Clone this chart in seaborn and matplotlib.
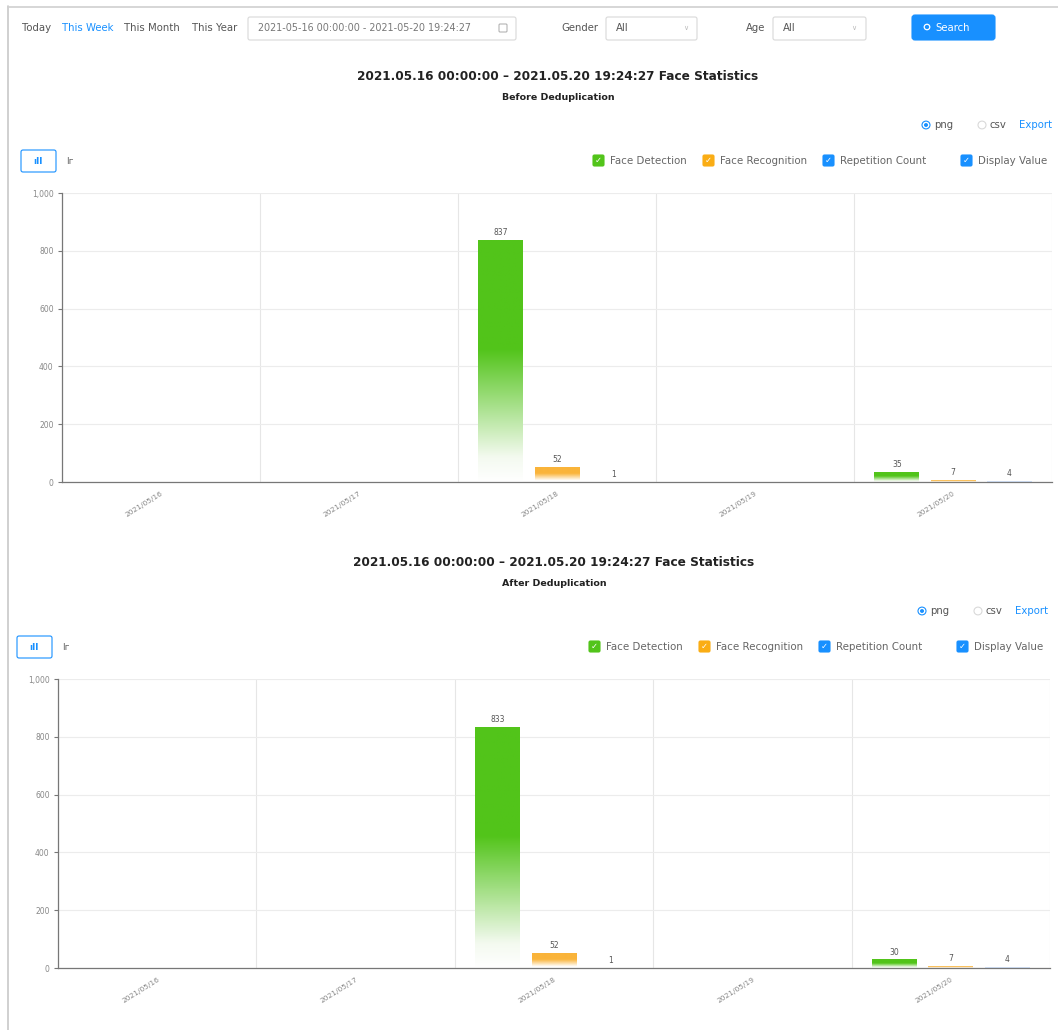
import numpy as np
import pandas as pd
import matplotlib
matplotlib.use("Agg")
import matplotlib.pyplot as plt
from matplotlib.colors import LinearSegmentedColormap
from matplotlib.patches import FancyBboxPatch, Circle
import seaborn as sns

# ---------------- data ----------------
dates = ["2021/05/16", "2021/05/17", "2021/05/18", "2021/05/19", "2021/05/20"]
series_names = ["Face Detection", "Face Recognition", "Repetition Count"]
before_detection = [0, 0, 837, 0, 35]
before_recognition = [0, 0, 52, 0, 7]
before_repetition = [0, 0, 1, 0, 4]
after_detection = [0, 0, 833, 0, 30]
after_recognition = [0, 0, 52, 0, 7]
after_repetition = [0, 0, 1, 0, 4]
y_ticks = [0, 200, 400, 600, 800, 1000]
y_tick_labels = ["0", "200", "400", "600", "800", "1,000"]
title_text = "2021.05.16 00:00:00 – 2021.05.20 19:24:27 Face Statistics"
subtitles = ["Before Deduplication", "After Deduplication"]

colors = ["#52c41a", "#fab43a", "#8fb8f5"]

sns.set_theme(style="white")
plt.rcParams["font.family"] = ["DejaVu Sans"]

W, H = 1058, 1030
fig = plt.figure(figsize=(W / 100, H / 100), dpi=100)
fig.patch.set_facecolor("white")


def fx(px):
    return px / W


def fy(py):
    return 1 - py / H


def txt(x, y, s, **kw):
    kw.setdefault("va", "center")
    kw.setdefault("ha", "left")
    kw.setdefault("fontsize", 7.3)
    kw.setdefault("color", "#555555")
    fig.text(fx(x), fy(y), s, **kw)


def box(x0, y0, x1, y1, ec="#d9d9d9", fc="white", lw=0.8, r=2):
    p = FancyBboxPatch((fx(x0), fy(y1)), fx(x1) - fx(x0), fy(y0) - fy(y1),
                       boxstyle=f"round,pad=0,rounding_size={r / W}",
                       transform=fig.transFigure, ec=ec, fc=fc, lw=lw)
    fig.add_artist(p)


# outer frame
fig.add_artist(plt.Line2D([fx(8), fx(8)], [fy(6), fy(1030)], transform=fig.transFigure, color="#c8c8c8", lw=1.2))
fig.add_artist(plt.Line2D([fx(8), fx(1058)], [fy(7), fy(7)], transform=fig.transFigure, color="#d0d0d0", lw=1.2))

# --------- filter row ----------
ry = 28
txt(22, ry, "Today")
txt(62, ry, "This Week", color="#1890ff")
txt(124, ry, "This Month")
txt(192, ry, "This Year")
box(248, 17, 516, 40)
txt(258, ry, "2021-05-16 00:00:00 - 2021-05-20 19:24:27", color="#777777", fontsize=6.9)
box(499, 24, 507, 32, ec="#aaaaaa", lw=0.7, r=1)
txt(598, ry, "Gender", ha="right")
box(606, 17, 697, 40)
txt(616, ry, "All")
txt(683, ry, "∨", color="#bbbbbb", fontsize=5)
txt(765, ry, "Age", ha="right")
box(773, 17, 866, 40)
txt(783, ry, "All")
txt(851, ry, "∨", color="#bbbbbb", fontsize=5)
box(912, 15, 995, 40, ec="#1890ff", fc="#1890ff", r=3)
fig.add_artist(Circle((fx(927), fy(27)), 2.8 / W, transform=fig.transFigure, fc="none", ec="white", lw=0.9))
txt(935, ry, "Search", color="white")

# --------- chart blocks ----------
blocks = [
    dict(dy=0, dx=0, det=before_detection, rec=before_recognition, rep=before_repetition,
         ax_rect=(62, 193, 1052, 482), sub=subtitles[0]),
    dict(dy=486, dx=-4, det=after_detection, rec=after_recognition, rep=after_repetition,
         ax_rect=(58, 679, 1050, 968), sub=subtitles[1]),
]

for b in blocks:
    dy, dx = b["dy"], b["dx"]
    txt(558 + dx, 76 + dy, title_text, ha="center", fontsize=8.7, fontweight="bold", color="#222222")
    txt(558 + dx, 97 + dy, b["sub"], ha="center", fontsize=6.8, fontweight="bold", color="#222222")
    # export radios
    fig.add_artist(Circle((fx(926 + dx), fy(125 + dy)), 4 / W, transform=fig.transFigure, fc="white", ec="#1890ff", lw=0.8))
    fig.add_artist(Circle((fx(926 + dx), fy(125 + dy)), 2 / W, transform=fig.transFigure, fc="#1890ff", ec="none"))
    txt(934 + dx, 125 + dy, "png")
    fig.add_artist(Circle((fx(982 + dx), fy(125 + dy)), 4 / W, transform=fig.transFigure, fc="white", ec="#d9d9d9", lw=0.8))
    txt(990 + dx, 125 + dy, "csv")
    txt(1019 + dx, 125 + dy, "Export", color="#1890ff")
    # chart type buttons
    box(21 + dx, 150 + dy, 56 + dx, 172 + dy, ec="#1890ff", fc="white", r=2)
    txt(38 + dx, 161 + dy, "ıll", ha="center", color="#1890ff", fontsize=6.5, fontweight="bold")
    txt(66 + dx, 161 + dy, "lг", color="#666666", fontsize=6.5)
    # legend / checkboxes
    leg = [(593, "Face Detection", "#52c41a"), (703, "Face Recognition", "#faad14"),
           (823, "Repetition Count", "#1890ff"), (961, "Display Value", "#1890ff")]
    for (lx, lab, c) in leg:
        box(lx + dx, 155 + dy, lx + 11 + dx, 166 + dy, ec=c, fc=c, r=1.5)
        txt(lx + 5.5 + dx, 160.5 + dy, "✓", ha="center", color="white", fontsize=6, fontweight="bold")
        txt(lx + 17 + dx, 160.5 + dy, lab, fontsize=7.4, color="#666666")

    # ----- axes -----
    x0, y0, x1, y1 = b["ax_rect"]
    ax = fig.add_axes([fx(x0), fy(y1), fx(x1) - fx(x0), fy(y0) - fy(y1)])
    df = pd.DataFrame({
        "date": dates * 3,
        "series": [series_names[0]] * 5 + [series_names[1]] * 5 + [series_names[2]] * 5,
        "value": list(b["det"]) + list(b["rec"]) + list(b["rep"]),
    })
    sns.barplot(data=df, x="date", y="value", hue="series", hue_order=series_names,
                palette=colors, width=0.85, gap=0.2, legend=False, ax=ax, errorbar=None)
    ax.set_xlim(-0.5, 4.5)
    ax.set_ylim(0, 1000)
    # gradient fills
    for cont, c in zip(ax.containers, colors):
        cmap = LinearSegmentedColormap.from_list(
            "g", [(0, "white"), (0.1, "#f4faf0" if c == colors[0] else "white"), (0.55, c), (1, c)])
        for bar in cont:
            h = bar.get_height()
            if h <= 0:
                bar.set_visible(False)
                continue
            bx, bw = bar.get_x(), bar.get_width()
            grad = np.linspace(0, 1, 256).reshape(-1, 1)
            im = ax.imshow(grad, extent=[bx, bx + bw, 0, h], origin="lower", cmap=cmap,
                           aspect="auto", interpolation="bilinear", zorder=2)
            im.set_clip_path(bar)
            bar.set_facecolor("none")
            bar.set_edgecolor("none")
        vals = [bar.get_height() for bar in cont]
        ax.bar_label(cont, labels=[f"{int(v)}" if v > 0 else "" for v in vals],
                     fontsize=5.5, color="#555555", padding=2)
    ax.set_xlim(-0.5, 4.5)
    ax.set_ylim(0, 1000)
    ax.set_xlabel("")
    ax.set_ylabel("")
    ax.set_yticks(y_ticks)
    ax.set_yticklabels(y_tick_labels)
    ax.set_xticks(range(len(dates)))
    ax.set_xticklabels(dates, rotation=32, ha="right", rotation_mode="anchor")
    ax.set_xticks(np.arange(-0.5, len(dates), 1.0), minor=True)
    ax.tick_params(axis="x", which="major", length=0, labelsize=5.4, labelcolor="#888888", pad=6)
    ax.tick_params(axis="x", which="minor", length=3, color="#777777", width=0.8)
    ax.tick_params(axis="y", length=3, color="#777777", width=0.8, labelsize=5.5, labelcolor="#888888",
                   left=True, pad=3)
    ax.grid(axis="y", which="major", color="#ececec", lw=0.8)
    ax.grid(axis="x", which="minor", color="#e6e6e6", lw=0.8)
    ax.set_axisbelow(True)
    for s in ["top", "right"]:
        ax.spines[s].set_visible(False)
    for s in ["left", "bottom"]:
        ax.spines[s].set_color("#777777")
        ax.spines[s].set_linewidth(0.9)
    ax.set_facecolor("white")

fig.savefig("out.png", dpi=100, facecolor="white")
